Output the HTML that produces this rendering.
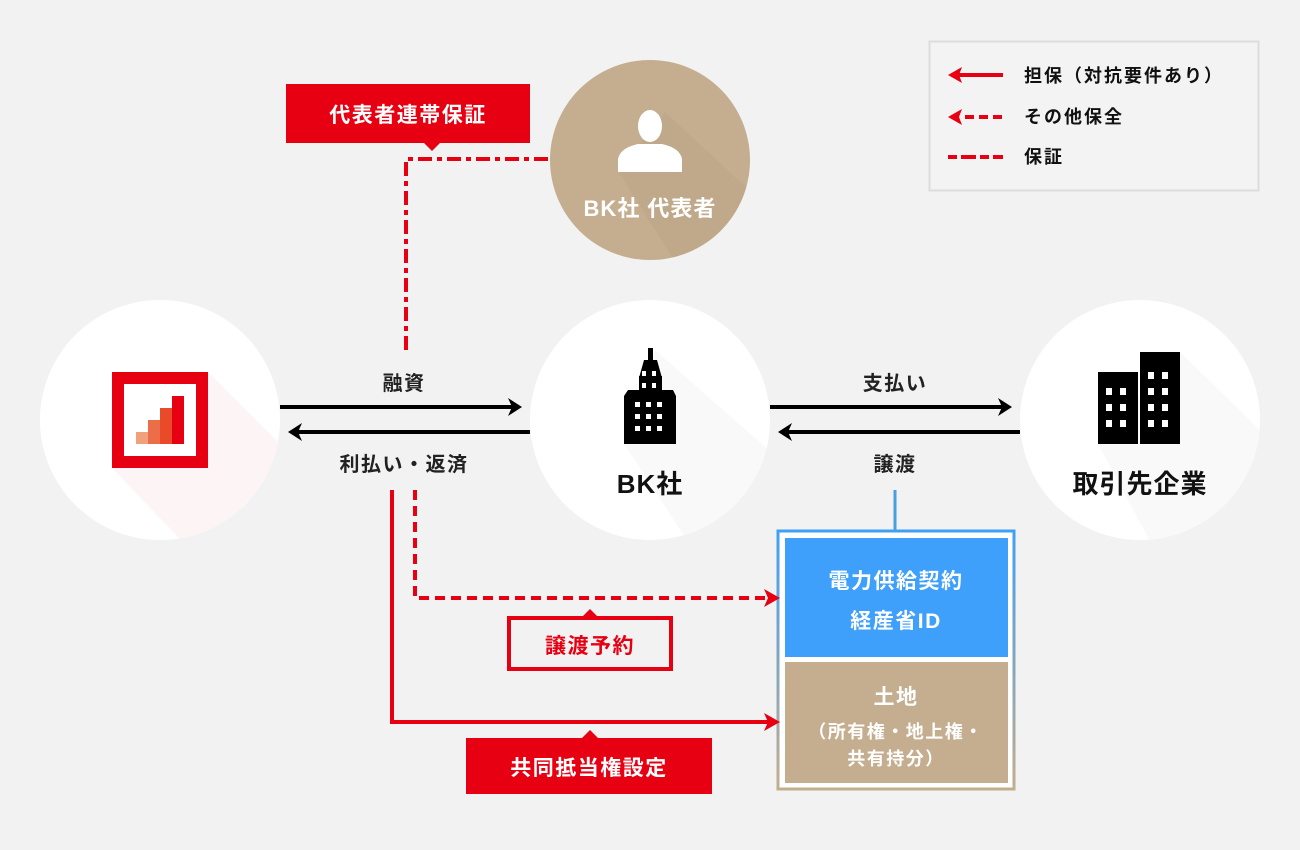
<!DOCTYPE html>
<html><head><meta charset="utf-8"><style>
html,body{margin:0;padding:0;background:#f2f2f2;}
svg{display:block;font-family:"Liberation Sans","Noto Sans CJK JP",sans-serif;font-weight:bold;}
</style></head><body>
<svg width="1300" height="850" viewBox="0 0 1300 850" xmlns="http://www.w3.org/2000/svg">
<defs>
<linearGradient id="bd" x1="0" y1="0" x2="0" y2="1"><stop offset="0" stop-color="#3fa0f5"/><stop offset="1" stop-color="#c4ad8e"/></linearGradient>
<clipPath id="c1"><circle cx="160" cy="420" r="120"/></clipPath>
<clipPath id="c2"><circle cx="650" cy="420" r="120"/></clipPath>
<clipPath id="c3"><circle cx="1140" cy="420" r="120"/></clipPath>
<clipPath id="c4"><circle cx="650" cy="160" r="100"/></clipPath>
</defs>
<rect width="1300" height="850" fill="#f2f2f2"/>

<circle cx="160" cy="420" r="120" fill="#fff"/>
<polygon clip-path="url(#c1)" points="208,372 300,464 300,560 200,560 112,468" fill="#fdf5f5"/>
<circle cx="650" cy="420" r="120" fill="#fff"/>
<polygon clip-path="url(#c2)" points="655,350 780,460 780,560 700,560 624,444" fill="#f9f9f9"/>
<circle cx="1140" cy="420" r="120" fill="#fff"/>
<polygon clip-path="url(#c3)" points="1180,352 1270,440 1270,560 1160,560 1098,444" fill="#f9f9f9"/>
<circle cx="650" cy="160" r="100" fill="#c4ae8f"/>
<polygon clip-path="url(#c4)" points="665,112 760,200 760,270 680,270 618,171" fill="#bfa98a"/>

<rect x="118" y="378" width="84" height="84" fill="#fff" stroke="#e60012" stroke-width="12"/>
<rect x="136" y="432" width="12" height="12" fill="#f0a07a"/>
<rect x="148" y="420" width="12" height="24" fill="#ec6e48"/>
<rect x="160" y="408" width="12" height="36" fill="#e84a2a"/>
<rect x="172" y="396" width="12" height="48" fill="#e60012"/>

<g fill="#fff">
<ellipse cx="650" cy="126" rx="12" ry="16"/>
<path d="M618 172 L618 159 Q620 148 638 144 L662 144 Q680 148 682 159 L682 172 Z"/>
</g>
<text x="650" y="216" font-size="22" fill="#fff" text-anchor="middle" letter-spacing="1">BK社 代表者</text>

<g fill="#000">
<rect x="648" y="348" width="5" height="14"/>
<polygon points="644,360 657,360 662,378 639,378"/>
<rect x="639" y="376" width="23" height="16"/>
<polygon points="628,390 673,390 676,396 676,444 624,444 624,396"/>
</g>
<g fill="#fff">
<rect x="642" y="371" width="4" height="5"/><rect x="652" y="371" width="4" height="5"/>
<rect x="642" y="383" width="4" height="5"/><rect x="652" y="383" width="4" height="5"/>
<rect x="635" y="402" width="5" height="5"/><rect x="646" y="402" width="5" height="5"/><rect x="657" y="402" width="5" height="5"/>
<rect x="635" y="414" width="5" height="5"/><rect x="646" y="414" width="5" height="5"/><rect x="657" y="414" width="5" height="5"/>
<rect x="635" y="426" width="5" height="5"/><rect x="646" y="426" width="5" height="5"/><rect x="657" y="426" width="5" height="5"/>
</g>
<text x="650" y="493" font-size="26" fill="#111" text-anchor="middle" letter-spacing="1">BK社</text>

<rect x="1098" y="372" width="40" height="72" fill="#000"/>
<rect x="1140" y="352" width="40" height="92" fill="#000"/>
<g fill="#fff">
<rect x="1106" y="388" width="6" height="7"/><rect x="1120" y="388" width="6" height="7"/>
<rect x="1106" y="404" width="6" height="7"/><rect x="1120" y="404" width="6" height="7"/>
<rect x="1106" y="420" width="6" height="7"/><rect x="1120" y="420" width="6" height="7"/>
<rect x="1148" y="372" width="6" height="7"/><rect x="1162" y="372" width="6" height="7"/>
<rect x="1148" y="388" width="6" height="7"/><rect x="1162" y="388" width="6" height="7"/>
<rect x="1148" y="404" width="6" height="7"/><rect x="1162" y="404" width="6" height="7"/>
<rect x="1148" y="420" width="6" height="7"/><rect x="1162" y="420" width="6" height="7"/>
</g>
<text x="1140" y="493" font-size="26" fill="#111" text-anchor="middle" letter-spacing="1">取引先企業</text>

<g stroke="#000" stroke-width="4">
<line x1="280" y1="407" x2="514" y2="407"/>
<line x1="296" y1="432" x2="530" y2="432"/>
<line x1="770" y1="407" x2="1004" y2="407"/>
<line x1="786" y1="432" x2="1020" y2="432"/>
</g>
<g fill="#000">
<polygon points="522,407 508,398 512,407 508,416"/>
<polygon points="288,432 302,423 298,432 302,441"/>
<polygon points="1012,407 998,398 1002,407 998,416"/>
<polygon points="778,432 792,423 788,432 792,441"/>
</g>
<g font-size="20" fill="#222" text-anchor="middle" letter-spacing="1.5">
<text x="404" y="390">融資</text>
<text x="404" y="471">利払い・返済</text>
<text x="895" y="390">支払い</text>
<text x="895" y="471">譲渡</text>
</g>

<path d="M406 350 L406 159 L550 159" fill="none" stroke="#e60012" stroke-width="4" stroke-dasharray="14,5,5,5"/>
<rect x="286" y="84" width="244" height="59" fill="#e60012"/>
<polygon points="424,143 440,143 432,151" fill="#e60012"/>
<text x="408" y="122" font-size="21" fill="#fff" text-anchor="middle" letter-spacing="1.5">代表者連帯保証</text>

<line x1="895" y1="490" x2="895" y2="532" stroke="#4a9fe0" stroke-width="3"/>

<rect x="778" y="531" width="236" height="258" fill="#fff" stroke="url(#bd)" stroke-width="3"/>
<rect x="785" y="538" width="223" height="119" fill="#3fa0fb"/>
<rect x="785" y="662" width="223" height="121" fill="#c4ae8f"/>
<g font-size="21" fill="#fff" text-anchor="middle" letter-spacing="1.5">
<text x="896" y="588">電力供給契約</text>
<text x="896" y="628">経産省ID</text>
<text x="896" y="704">土地</text>
<text x="896" y="738" font-size="18">（所有権・地上権・</text>
<text x="896" y="765" font-size="18">共有持分）</text>
</g>

<path d="M415 490 L415 598 L768 598" fill="none" stroke="#e60012" stroke-width="4" stroke-dasharray="10,6"/>
<polygon points="780,598 764,589 768,598 764,607" fill="#e60012"/>
<rect x="509" y="618" width="162" height="51" fill="#f2f2f2" stroke="#e60012" stroke-width="4"/>
<polygon points="582,617 598,617 590,609" fill="#e60012"/>
<text x="590" y="653" font-size="21" fill="#e60012" text-anchor="middle" letter-spacing="1.5">譲渡予約</text>

<path d="M392 490 L392 722 L768 722" fill="none" stroke="#e60012" stroke-width="4"/>
<polygon points="780,722 764,713 768,722 764,731" fill="#e60012"/>
<rect x="466" y="738" width="246" height="56" fill="#e60012"/>
<polygon points="582,738 598,738 590,730" fill="#e60012"/>
<text x="589" y="775" font-size="21" fill="#fff" text-anchor="middle" letter-spacing="1.5">共同抵当権設定</text>

<rect x="929.5" y="41.5" width="329" height="149" fill="#f3f3f3" stroke="#dcdcdc" stroke-width="2"/>
<line x1="958" y1="75" x2="1003" y2="75" stroke="#e60012" stroke-width="4"/>
<polygon points="948,75 962,67 959,75 962,83" fill="#e60012"/>
<line x1="965" y1="117" x2="1003" y2="117" stroke="#e60012" stroke-width="4" stroke-dasharray="9,5"/>
<polygon points="948,117 962,109 959,117 962,125" fill="#e60012"/>
<line x1="948" y1="157" x2="1003" y2="157" stroke="#e60012" stroke-width="4" stroke-dasharray="9,4,15,4"/>
<g font-size="18" fill="#111" letter-spacing="2">
<text x="1024" y="82">担保（対抗要件あり）</text>
<text x="1024" y="123">その他保全</text>
<text x="1024" y="163">保証</text>
</g>
</svg>
</body></html>
